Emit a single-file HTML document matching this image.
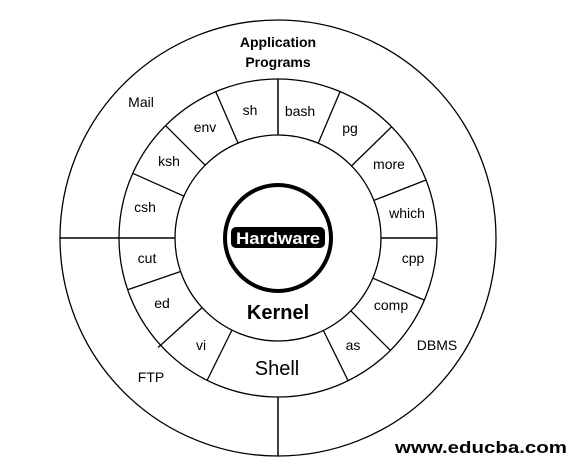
<!DOCTYPE html>
<html><head><meta charset="utf-8"><style>
html,body{margin:0;padding:0;background:#fff;}
svg{display:block;}
text{font-family:"Liberation Sans",sans-serif;fill:#000;}
</style></head><body>
<svg width="578" height="473" viewBox="0 0 578 473" xmlns="http://www.w3.org/2000/svg">
<g fill="none" stroke="#000">
<circle cx="278" cy="238" r="218" stroke-width="1.3"/>
<circle cx="278" cy="238" r="159" stroke-width="1.3"/>
<circle cx="278" cy="238" r="103" stroke-width="1.3"/>
<circle cx="278" cy="238" r="53" stroke-width="4"/>
<line x1="60" y1="238" x2="175" y2="238" stroke-width="1.5"/>
<line x1="381" y1="238" x2="437" y2="238" stroke-width="1.5"/>
<line x1="278" y1="79" x2="278" y2="135" stroke-width="1.5"/>
<line x1="278" y1="397" x2="278" y2="456" stroke-width="1.5"/>
<g stroke-width="1.3" id="rad"></g>
</g>
<g stroke="#000" stroke-width="1.3">
<line x1="215.8" y1="91.7" x2="238" y2="143"/>
<line x1="165.7" y1="125.7" x2="205.2" y2="165.2"/>
<line x1="132.8" y1="173.3" x2="184" y2="196.2"/>
<line x1="127.6" y1="289.8" x2="180.6" y2="271.5"/>
<line x1="158.1" y1="347.5" x2="202.2" y2="307.5"/>
<line x1="207" y1="380.5" x2="232" y2="330"/>
<line x1="348.1" y1="380.7" x2="323.4" y2="330.5"/>
<line x1="390.4" y1="350.4" x2="350.8" y2="310.8"/>
<line x1="424.4" y1="300.1" x2="372.8" y2="278.2"/>
<line x1="426" y1="180" x2="373.9" y2="200.4"/>
<line x1="391.6" y1="126.8" x2="351.6" y2="165.9"/>
<line x1="340.1" y1="91.6" x2="318.2" y2="143.2"/>
</g>
<rect x="231" y="227" width="94" height="21" rx="5" fill="#000"/>
<text x="278" y="244" font-size="17" font-weight="bold" text-anchor="middle" style="fill:#fff" textLength="84" lengthAdjust="spacingAndGlyphs">Hardware</text>
<g font-size="14" text-anchor="middle">
<text x="278" y="47" font-weight="bold" font-size="14">Application</text>
<text x="278" y="67" font-weight="bold" font-size="14">Programs</text>
<text x="141" y="107">Mail</text>
<text x="250" y="115">sh</text>
<text x="300" y="116">bash</text>
<text x="350" y="133">pg</text>
<text x="205" y="132">env</text>
<text x="169" y="166">ksh</text>
<text x="389" y="169">more</text>
<text x="145" y="212">csh</text>
<text x="407" y="218">which</text>
<text x="147" y="263">cut</text>
<text x="413" y="263">cpp</text>
<text x="162" y="308">ed</text>
<text x="391" y="310">comp</text>
<text x="201" y="350">vi</text>
<text x="353" y="350">as</text>
<text x="437" y="350">DBMS</text>
<text x="151" y="382">FTP</text>
<text x="277" y="375" font-size="20">Shell</text>
<text x="278" y="319" font-size="20" font-weight="bold">Kernel</text>
</g>
<text x="395" y="453" font-size="17" font-weight="bold" textLength="172" lengthAdjust="spacingAndGlyphs">www.educba.com</text>
</svg>
</body></html>
